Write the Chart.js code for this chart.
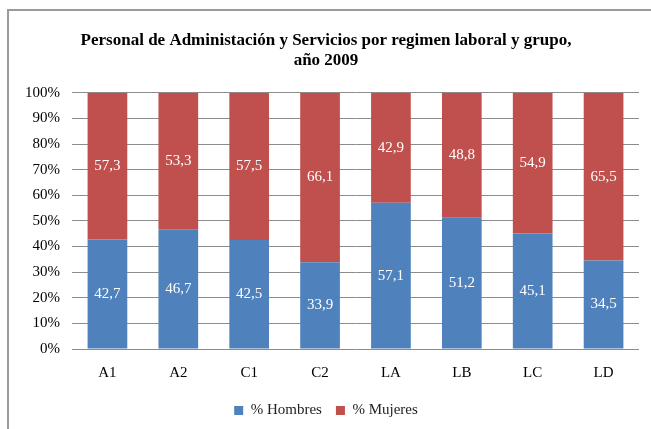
<!DOCTYPE html>
<html>
<head>
<meta charset="utf-8">
<script src="https://cdn.jsdelivr.net/npm/chart.js@4"></script>
<style>
  html, body { margin: 0; padding: 0; background: #fff; }
  #frame {
    position: absolute; left: 7px; top: 9px; width: 644px; height: 420px;
    border-left: 2px solid #9a9a9a; border-top: 2px solid #9a9a9a;
    box-sizing: border-box;
  }
  #wrap { position: absolute; left: 0; top: 0; width: 642px; height: 418px; }
</style>
</head>
<body>
<div id="frame"><div id="wrap"><canvas id="chart"></canvas></div></div>
<script>
const grupos = ['A1', 'A2', 'C1', 'C2', 'LA', 'LB', 'LC', 'LD'];
const hombres = [42.7, 46.7, 42.5, 33.9, 57.1, 51.2, 45.1, 34.5];
const mujeres = [57.3, 53.3, 57.5, 66.1, 42.9, 48.8, 54.9, 65.5];

const serif = "'Liberation Serif', 'DejaVu Serif', serif";

// white value labels in the middle of every bar segment
const valueLabels = {
  id: 'valueLabels',
  afterDatasetsDraw(chart) {
    const ctx = chart.ctx;
    ctx.save();
    ctx.fillStyle = '#fff';
    ctx.font = '15px ' + serif;
    ctx.textAlign = 'center';
    ctx.textBaseline = 'middle';
    chart.data.datasets.forEach((ds, i) => {
      chart.getDatasetMeta(i).data.forEach((bar, j) => {
        const mid = (bar.y + bar.base) / 2;
        ctx.fillText(ds.data[j].toFixed(1).replace('.', ','), bar.x, mid);
      });
    });
    ctx.restore();
  }
};

const ctx = document.querySelector('#chart').getContext('2d');
const myChart = new Chart(ctx, {
  type: 'bar',
  data: {
    labels: grupos,
    datasets: [
      { label: '% Hombres', data: hombres, backgroundColor: '#4F81BD', barPercentage: 0.56, categoryPercentage: 1 },
      { label: '% Mujeres', data: mujeres, backgroundColor: '#C0504D', barPercentage: 0.56, categoryPercentage: 1 }
    ]
  },
  options: {
    responsive: true,
    maintainAspectRatio: false,
    animation: false,
    layout: { padding: { left: 4, right: 12, top: 4, bottom: 1 } },
    plugins: {
      title: {
        display: true,
        text: ['Personal de Administación y Servicios por regimen laboral y grupo,', 'año 2009'],
        color: '#000',
        font: { family: serif, size: 17, weight: 'bold', lineHeight: 1.2 },
        padding: { top: 15, bottom: 22 }
      },
      legend: {
        position: 'bottom',
        labels: {
          color: '#222',
          font: { family: serif, size: 15 },
          boxWidth: 9, boxHeight: 9, padding: 14
        }
      },
      tooltip: { enabled: false }
    },
    scales: {
      x: {
        stacked: true,
        grid: { display: false },
        border: { display: false },
        ticks: { color: '#000', font: { family: serif, size: 15 }, padding: 7 }
      },
      y: {
        stacked: true,
        min: 0, max: 100,
        ticks: {
          stepSize: 10, color: '#000', padding: 12,
          font: { family: serif, size: 15 },
          callback: v => v + '%'
        },
        grid: { color: '#8c8c8c', lineWidth: 1, drawTicks: false },
        border: { display: false }
      }
    }
  },
  plugins: [valueLabels]
});
</script>
</body>
</html>
